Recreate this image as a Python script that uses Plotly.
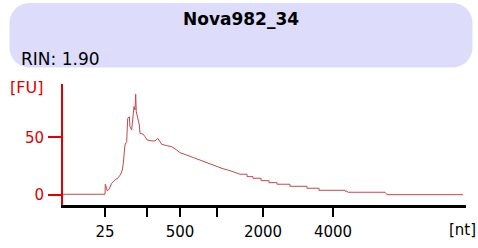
import plotly.graph_objects as go

# ---- data (migration time in s, fluorescence in FU) ----
time_s = [17.0, 22.21, 22.25, 22.50, 22.74, 23.04, 23.45, 23.86, 24.16, 24.36, 24.48,
          24.69, 24.90, 25.03, 25.23, 25.31, 25.52, 25.65, 25.81, 25.93, 26.02, 26.09,
          26.27, 26.47, 26.55, 26.96, 27.17, 27.46, 28.00, 28.41, 28.75, 29.03, 29.25,
          29.87, 30.49, 31.11, 31.52, 32.76, 34.00, 34.99, 36.07, 36.85, 37.72, 38.34,
          38.96, 39.83, 39.83, 40.57, 40.57, 41.57, 41.57, 42.56, 42.56, 43.55, 43.55,
          45.16, 45.16, 47.27, 47.27, 48.76, 48.76, 51.99, 52.08, 52.20, 52.33, 56.95,
          57.03, 57.20, 66.63]
fu = [0.35, 0.35, 9.1, 3.2, 5.0, 9.9, 12.8, 14.8, 17.8, 21.5, 27.4,
      43.3, 46.2, 66.6, 67.9, 59.2, 56.4, 66.6, 76.7, 73.8, 87.5, 72.3,
      67.9, 60.7, 53.5, 52.6, 50.5, 47.6, 46.8, 46.8, 49.1, 46.2, 43.9,
      42.7, 41.8, 38.9, 36.6, 33.4, 30.2, 27.3, 24.4, 22.6, 20.9, 19.5,
      17.8, 17.8, 15.7, 15.7, 14.3, 14.3, 12.2, 12.2, 10.5, 10.5, 9.1,
      9.1, 7.3, 7.3, 5.6, 5.6, 3.8, 3.8, 2.5, 3.3, 2.1, 2.1,
      1.6, 0.0, 0.0]

tick_times = [22.21, 27.42, 31.52, 36.11, 41.81, 50.50]
tick_labels = ["25", "", "500", "", "2000", "4000"]
y_ticks = [0, 50]
y_labels = ["0", "50"]

title_text = "Nova982_34"
rin_text = "RIN: 1.90"
y_unit = "[FU]"
x_unit = "[nt]"

RED = "#e00000"
FONT = "DejaVu Sans"

# ---- layout geometry (pixels) ----
W, H = 478, 248
L, R, T, B = 63, 12, 84, 43
PW, PH = W - L - R, H - T - B


def px(x):
    return (x - L) / PW


def py(y):
    return (H - B - y) / PH


def rounded_rect(x0, y0, x1, y1, r):
    k = 0.5523 * r
    pts = []
    pts.append(f"M {px(x0 + r)} {py(y0)}")
    pts.append(f"L {px(x1 - r)} {py(y0)}")
    pts.append(f"C {px(x1 - r + k)} {py(y0)} {px(x1)} {py(y0 + r - k)} {px(x1)} {py(y0 + r)}")
    pts.append(f"L {px(x1)} {py(y1 - r)}")
    pts.append(f"C {px(x1)} {py(y1 - r + k)} {px(x1 - r + k)} {py(y1)} {px(x1 - r)} {py(y1)}")
    pts.append(f"L {px(x0 + r)} {py(y1)}")
    pts.append(f"C {px(x0 + r - k)} {py(y1)} {px(x0)} {py(y1 - r + k)} {px(x0)} {py(y1 - r)}")
    pts.append(f"L {px(x0)} {py(y0 + r)}")
    pts.append(f"C {px(x0)} {py(y0 + r - k)} {px(x0 + r - k)} {py(y0)} {px(x0 + r)} {py(y0)}")
    pts.append("Z")
    return " ".join(pts)


fig = go.Figure()
fig.add_trace(go.Scatter(x=time_s, y=fu, mode="lines",
                         line=dict(color="#c4484c", width=1),
                         hoverinfo="skip", showlegend=False))

fig.update_layout(
    width=W, height=H, autosize=False,
    margin=dict(l=L, r=R, t=T, b=B, pad=0, autoexpand=False),
    paper_bgcolor="white", plot_bgcolor="white",
    font=dict(family=FONT, size=15, color="black"),
    xaxis=dict(range=[17, 67], showgrid=False, zeroline=False,
               showline=True, linecolor="black", linewidth=2.5,
               ticks="outside", ticklen=9, tickwidth=2, tickcolor="black",
               tickmode="array", tickvals=tick_times, ticktext=tick_labels,
               tickfont=dict(family=FONT, size=15, color="black"),
               ticklabelstandoff=2, fixedrange=True, automargin=False),
    yaxis=dict(range=[-9, 96.4], showgrid=False, zeroline=False,
               showline=True, linecolor=RED, linewidth=2,
               ticks="outside", ticklen=13, tickwidth=2, tickcolor=RED,
               tickmode="array", tickvals=y_ticks, ticktext=y_labels,
               tickfont=dict(family=FONT, size=15, color=RED),
               ticklabelstandoff=1, fixedrange=True, automargin=False),
    shapes=[dict(type="path", xref="paper", yref="paper",
                 path=rounded_rect(9.5, 3, 472.5, 67.5, 20),
                 fillcolor="#dddcfb", line=dict(width=0), layer="below")],
    annotations=[
        dict(text=f"<b>{title_text}</b>", xref="paper", yref="paper",
             x=px(241), y=py(19), xanchor="center", yanchor="middle",
             showarrow=False, font=dict(family=FONT, size=17, color="black")),
        dict(text=rin_text, xref="paper", yref="paper",
             x=px(19), y=py(59), xanchor="left", yanchor="middle",
             showarrow=False, font=dict(family=FONT, size=17, color="black")),
        dict(text=y_unit, xref="paper", yref="paper",
             x=px(8), y=py(87.5), xanchor="left", yanchor="middle",
             showarrow=False, font=dict(family=FONT, size=16, color=RED)),
        dict(text=x_unit, xref="paper", yref="paper",
             x=px(478), y=py(229.5), xanchor="right", yanchor="middle",
             showarrow=False, font=dict(family=FONT, size=15, color="black")),
    ],
)

fig.write_html("out.html", config={"displayModeBar": False},
               post_script="document.body.style.margin='0';document.body.style.overflow='hidden';")
